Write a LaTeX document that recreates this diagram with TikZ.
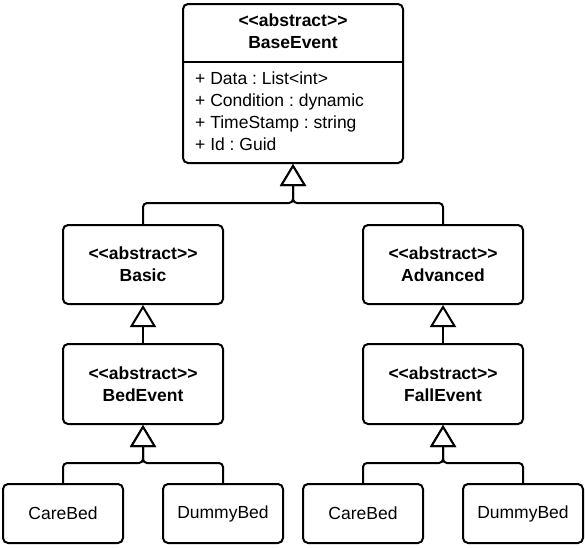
\documentclass[tikz,border=0pt]{standalone}
\usepackage{fontspec}
\setmainfont{Liberation Sans}[Ligatures=TeXOff]
\usetikzlibrary{arrows.meta}
\frenchspacing
\tikzset{
  umlbox/.style={draw=black, line width=2pt, fill=white, rounded corners=5pt, inner sep=0pt, align=center,
    font=\fontsize{17.5}{22}\selectfont},
  absbox/.style={umlbox, minimum width=160pt, minimum height=80pt, font=\bfseries\fontsize{17.5}{22}\selectfont},
  leafbox/.style={umlbox, minimum width=120pt, minimum height=59pt},
  inh/.style={draw=black, line width=2pt, rounded corners=4pt,
    -{Triangle[open, length=22pt, width=26pt, line width=2pt, fill=white]}},
  txt/.style={inner sep=0pt, font=\fontsize{17.5}{22}\selectfont}
}
\begin{document}
\begin{tikzpicture}[x=1pt, y=-1pt]
\useasboundingbox (0,0) rectangle (585,547);
% BaseEvent
\node[umlbox, minimum width=220pt, minimum height=159pt] (base) at (293,83.5) {};
\draw[line width=2pt] (base.west |- 0,62) coordinate (dl) -- (base.east |- 0,62) coordinate (dr);
\node[txt, align=center, font=\bfseries\fontsize{17.5}{22}\selectfont] (baseh) at (293,31) {<<abstract>>\\BaseEvent};
\node[txt, align=left, anchor=west] (basea) at (195,111) {+ Data : List<int>\\+ Condition : dynamic\\+ TimeStamp : string\\+ Id : Guid};
% second level
\node[absbox, minimum height=79pt] (basic) at (143,264.5) {<<abstract>>\\Basic};
\node[absbox, minimum height=79pt] (adv) at (443,264.5) {<<abstract>>\\Advanced};
% third level
\node[absbox] (bed) at (143,384) {<<abstract>>\\BedEvent};
\node[absbox] (fall) at (443,384) {<<abstract>>\\FallEvent};
% leaves
\node[leafbox] (care1) at (63,513.5) {CareBed};
\node[leafbox] (dummy1) at (223,513.5) {DummyBed};
\node[leafbox] (care2) at (363,513.5) {CareBed};
\node[leafbox] (dummy2) at (523,513.5) {DummyBed};
% junctions
\coordinate (j0) at (293,203);
\coordinate (j1) at (143,463);
\coordinate (j2) at (443,463);
% connectors
\draw[inh] (basic.north) |- (j0) -- (base.south);
\draw[inh] (adv.north) |- (j0) -- (base.south);
\draw[inh] (bed.north) -- (basic.south);
\draw[inh] (fall.north) -- (adv.south);
\draw[inh] (care1.north) |- (j1) -- (bed.south);
\draw[inh] (dummy1.north) |- (j1) -- (bed.south);
\draw[inh] (care2.north) |- (j2) -- (fall.south);
\draw[inh] (dummy2.north) |- (j2) -- (fall.south);
\end{tikzpicture}
\end{document}
